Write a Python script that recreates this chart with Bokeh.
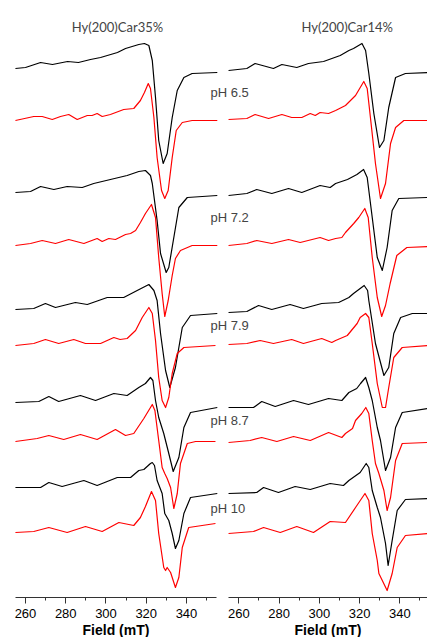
from bokeh.plotting import figure
from bokeh.models import Range1d, LinearAxis, SingleIntervalTicker, Label
from bokeh.embed import file_html
from bokeh.resources import INLINE

# ---------------- data ----------------
panel_titles = ["Hy(200)Car35%", "Hy(200)Car14%"]
ph_labels = ["pH 6.5", "pH 7.2", "pH 7.9", "pH 8.7", "pH 10"]

# Hy(200)Car35% : experimental (black) and simulated (red) spectra, field in mT, intensity a.u.
c35_65_exp_f = [255.0, 260, 267.5, 273.4, 280.9, 286.3, 292.3, 297.3, 305.7, 309.7, 316.3, 319.1, 321.3, 323.0, 324.6, 326.2, 328.4, 330.4, 332.9, 335.4, 338.7, 342.8, 355.3]
c35_65_exp_i = [0, 1, 6, 4, 7, 6, 9, 11, 16, 20, 24, 25, 23, 8, -29, -72, -95, -85, -49, -22, -9, -5, -4]
c35_65_sim_f = [255.0, 264.1, 268.3, 273.3, 277.4, 281.5, 285.7, 290.7, 293.1, 295.6, 298.1, 302.2, 308.8, 313.8, 317.1, 319.1, 321.0, 322.1, 323.8, 325.4, 327.6, 329.2, 330.9, 332.9, 334.9, 337.9, 342.8, 355.3]
c35_65_sim_i = [0, 4, 4, 1, 4, 6, 1, 5, 5, 7, 4, 6, 11, 12, 20, 28, 37, 32, 3, -37, -70, -78, -70, -37, -10, -2, 0, 0]

c35_72_exp_f = [255.0, 262.5, 267.5, 274.1, 280.7, 288.2, 293.9, 302.2, 310.5, 316.3, 319.6, 322.1, 323.0, 325.4, 327.1, 329.9, 331.2, 333.7, 336.2, 340.4, 355.3]
c35_72_exp_i = [0, 1, 6, 3, 6, 5, 9, 13, 17, 21, 22, 17, 9, -28, -61, -80, -75, -45, -15, -5, -3]
c35_72_sim_f = [255.0, 262.5, 268.3, 274.9, 281.5, 289.0, 295.6, 298.1, 301.4, 304.7, 309.7, 312.2, 314.7, 317.1, 319.6, 322.6, 324.6, 326.2, 327.9, 329.2, 330.9, 332.9, 334.5, 337.0, 342.8, 355.3]
c35_72_sim_i = [0, 2, 5, 2, 6, 2, 7, 4, 7, 6, 11, 12, 15, 23, 32, 41, 28, -12, -48, -71, -55, -30, -13, -5, 0, 0]

c35_79_exp_f = [255.0, 264.1, 269.9, 274.9, 284.8, 290.7, 300.6, 308.8, 315.5, 321.3, 323.8, 325.4, 327.1, 329.6, 331.7, 334.5, 337.9, 342.0, 355.3]
c35_79_exp_i = [0, 1, 6, 2, 7, 5, 12, 12, 19, 25, 19, 9, -24, -61, -78, -58, -18, -6, -4]
c35_79_sim_f = [255.0, 264.1, 269.9, 276.5, 284.0, 289.8, 297.3, 303.9, 307.0, 310.5, 314.7, 318.0, 321.3, 323.0, 324.6, 326.2, 327.9, 329.6, 331.2, 332.9, 335.4, 338.7, 354.4]
c35_79_sim_i = [0, 2, 6, 2, 6, 2, 2, 8, 6, 7, 15, 28, 38, 32, 5, -32, -55, -62, -52, -28, -8, -2, 0]

c35_87_exp_f = [255.0, 266.6, 271.6, 276.5, 287.3, 294.8, 303.9, 310.5, 316.3, 319.6, 322.1, 323.3, 324.6, 326.2, 328.7, 331.2, 333.4, 336.2, 338.7, 342.0, 355.3]
c35_87_exp_i = [0, 1, 6, 1, 7, 2, 9, 7, 15, 19, 25, 22, 2, -15, -31, -51, -69, -55, -25, -10, -5]
c35_87_sim_f = [255.0, 265.8, 271.6, 279.0, 287.3, 295.6, 304.7, 309.7, 313.8, 318.8, 323.0, 324.3, 326.2, 327.9, 329.2, 330.4, 332.1, 333.7, 335.4, 337.0, 340.4, 344.5, 354.4]
c35_87_sim_i = [0, 3, 6, 2, 7, 2, 12, 6, 8, 23, 37, 31, 1, -26, -32, -37, -46, -67, -52, -22, -2, 0, 0]

c35_10_exp_f = [255.0, 267.5, 271.6, 278.2, 289.0, 295.6, 305.6, 312.2, 316.3, 318.8, 322.1, 323.0, 324.1, 325.4, 327.9, 329.2, 331.2, 332.9, 334.5, 336.2, 338.7, 342.0, 355.3]
c35_10_exp_i = [0, 0, 5, 1, 7, 2, 10, 10, 17, 18, 24, 25, 22, 7, -6, -26, -33, -46, -61, -53, -26, -10, -6]
c35_10_sim_f = [255.0, 264.1, 271.6, 280.7, 289.8, 298.1, 306.4, 313.8, 317.1, 319.6, 322.6, 324.6, 326.2, 328.7, 329.6, 330.4, 332.1, 334.5, 336.2, 337.9, 341.1, 354.4]
c35_10_sim_i = [0, 1, 5, 0, 6, 1, 10, 7, 15, 26, 41, 32, -1, -35, -38, -35, -40, -55, -45, -15, 5, 9]

# Hy(200)Car14%
c14_65_exp_f = [254.9, 264.0, 268.1, 277.2, 281.4, 288.8, 294.6, 302.1, 310.4, 314.7, 317.0, 321.2, 323.0, 324.6, 327.1, 329.9, 332.1, 334.5, 337.9, 342.8, 353.8]
c14_65_exp_i = [0, 2, 7, 2, 6, 3, 7, 9, 15, 20, 22, 27, 20, -3, -43, -77, -70, -37, -7, -3, -2]
c14_65_sim_f = [254.9, 264.0, 268.1, 274.8, 281.4, 286.3, 291.3, 295.5, 298.0, 300.4, 304.6, 308.1, 313.0, 318.0, 322.1, 323.8, 325.4, 327.9, 330.4, 332.9, 335.4, 337.9, 342.0, 353.8]
c14_65_sim_i = [1, 2, 6, 2, 6, 3, 3, 7, 5, 8, 7, 10, 15, 25, 39, 32, 3, -43, -78, -63, -23, -7, 0, 0]

c14_72_exp_f = [254.9, 264.0, 268.9, 276.4, 284.7, 291.3, 300.4, 305.4, 308.1, 314.0, 318.7, 322.0, 323.8, 326.3, 328.8, 331.3, 333.7, 336.2, 339.5, 353.8]
c14_72_exp_i = [0, 2, 6, 2, 7, 3, 10, 8, 12, 16, 21, 26, 18, -22, -62, -75, -52, -15, -3, -2]
c14_72_sim_f = [254.9, 264.0, 268.9, 276.4, 284.7, 290.5, 300.4, 304.6, 308.1, 311.2, 313.0, 317.1, 319.6, 322.6, 324.3, 326.3, 328.8, 331.0, 332.9, 335.2, 338.5, 343.5, 353.8]
c14_72_sim_i = [0, 2, 5, 2, 6, 3, 8, 5, 7, 8, 13, 22, 28, 37, 28, -12, -52, -71, -60, -38, -10, -2, -1]

c14_79_exp_f = [254.9, 264.0, 269.8, 276.4, 285.5, 292.1, 301.2, 309.6, 314.7, 317.0, 322.3, 324.0, 324.6, 327.9, 332.1, 334.5, 337.0, 340.4, 346.2, 353.8]
c14_79_exp_i = [0, 1, 7, 3, 8, 4, 9, 10, 15, 19, 27, 22, 12, -31, -63, -55, -21, -5, -1, -1]
c14_79_sim_f = [254.9, 264.0, 270.6, 277.2, 286.3, 292.1, 301.2, 306.2, 308.1, 313.9, 318.8, 320.3, 323.0, 324.6, 326.3, 328.8, 331.3, 332.9, 334.5, 337.0, 341.2, 353.8]
c14_79_sim_i = [0, 1, 4, 1, 5, 1, 6, 2, 4, 9, 21, 27, 31, 27, 1, -39, -63, -63, -43, -13, -3, -1]

c14_87_exp_f = [254.9, 267.3, 271.4, 278.1, 287.2, 294.6, 304.6, 311.2, 314.7, 318.6, 320.5, 323.0, 324.6, 326.3, 328.8, 330.4, 332.9, 335.4, 337.9, 341.2, 353.8]
c14_87_exp_i = [0, 0, 6, 1, 7, 3, 9, 7, 15, 19, 24, 30, 20, 7, -20, -33, -63, -50, -20, -5, -1]
c14_87_sim_f = [254.9, 265.6, 271.4, 278.9, 287.2, 295.5, 304.6, 311.2, 313.0, 316.5, 318.0, 321.1, 323.1, 324.6, 326.3, 327.9, 329.6, 332.1, 333.7, 335.4, 337.9, 341.2, 353.8]
c14_87_sim_i = [-1, 1, 4, 0, 5, 1, 9, 4, 8, 13, 21, 28, 34, 28, 1, -22, -32, -49, -69, -56, -19, -2, -1]

c14_10_exp_f = [254.9, 268.9, 272.3, 279.7, 288.0, 295.5, 305.4, 312.0, 314.7, 320.3, 323.3, 324.6, 326.3, 328.8, 330.4, 332.9, 334.2, 336.2, 338.7, 342.8, 353.8]
c14_10_exp_i = [0, 1, 6, 1, 7, 4, 10, 8, 13, 21, 30, 26, 3, -14, -24, -50, -72, -47, -17, -6, -5]
c14_10_sim_f = [254.9, 267.3, 272.3, 280.6, 288.8, 297.1, 305.4, 313.0, 318.0, 322.7, 324.6, 326.3, 328.8, 329.6, 331.3, 333.7, 336.2, 338.7, 342.8, 353.8]
c14_10_sim_i = [-1, 1, 5, 0, 6, 0, 11, 10, 25, 39, 32, -1, -28, -41, -48, -58, -41, -15, -3, -1]

# vertical stacking offsets (a.u.), order: pH 6.5 exp, sim, 7.2 exp, sim, ... 10 exp, sim
offsets_c35 = [529, 477, 405, 352, 288, 252, 195, 156, 110, 65]
offsets_c14 = [527, 477, 402, 352, 285, 253, 190, 156, 104, 65]

ticks_major = 20
# --------------------------------------

left_curves = [
    (c35_65_exp_f, c35_65_exp_i), (c35_65_sim_f, c35_65_sim_i),
    (c35_72_exp_f, c35_72_exp_i), (c35_72_sim_f, c35_72_sim_i),
    (c35_79_exp_f, c35_79_exp_i), (c35_79_sim_f, c35_79_sim_i),
    (c35_87_exp_f, c35_87_exp_i), (c35_87_sim_f, c35_87_sim_i),
    (c35_10_exp_f, c35_10_exp_i), (c35_10_sim_f, c35_10_sim_i),
]
right_curves = [
    (c14_65_exp_f, c14_65_exp_i), (c14_65_sim_f, c14_65_sim_i),
    (c14_72_exp_f, c14_72_exp_i), (c14_72_sim_f, c14_72_sim_i),
    (c14_79_exp_f, c14_79_exp_i), (c14_79_sim_f, c14_79_sim_i),
    (c14_87_exp_f, c14_87_exp_i), (c14_87_sim_f, c14_87_sim_i),
    (c14_10_exp_f, c14_10_exp_i), (c14_10_sim_f, c14_10_sim_i),
]

X0, X1 = 247.58, 459.75
SHIFT = 105.99

p = figure(width=427, height=637, x_range=Range1d(X0, X1), y_range=Range1d(-40, 597),
           output_backend="svg", toolbar_location=None,
           x_axis_type=None, y_axis_type=None,
           min_border_left=0, min_border_right=0, min_border_top=0, min_border_bottom=0,
           outline_line_color=None, background_fill_color="white", border_fill_color="white")
p.extra_x_ranges = {"right": Range1d(X0 - SHIFT, X1 - SHIFT)}

colors = ["black", "#ff0000"]
for k, (f, i) in enumerate(left_curves):
    off = offsets_c35[k]
    p.line(f, [off + v for v in i], line_color=colors[k % 2], line_width=1.2,
           line_join="round")
for k, (f, i) in enumerate(right_curves):
    off = offsets_c14[k]
    p.line(f, [off + v for v in i], line_color=colors[k % 2], line_width=1.2,
           line_join="round", x_range_name="right")

for rname in ["default", "right"]:
    ax = LinearAxis(x_range_name=rname, fixed_location=0, bounds=(255, 355),
                    ticker=SingleIntervalTicker(interval=ticks_major, num_minor_ticks=2),
                    axis_label="Field (mT)")
    ax.axis_line_color = "#333333"
    ax.major_tick_line_color = "#333333"
    ax.minor_tick_line_color = "#333333"
    ax.major_tick_in = 0
    ax.major_tick_out = 6
    ax.minor_tick_in = 0
    ax.minor_tick_out = 3
    ax.major_label_text_font = "Liberation Sans"
    ax.major_label_text_font_size = "13px"
    ax.major_label_text_color = "black"
    ax.major_label_standoff = 5
    ax.axis_label_text_font = "Liberation Sans"
    ax.axis_label_text_font_size = "14px"
    ax.axis_label_text_font_style = "bold"
    ax.axis_label_text_color = "black"
    ax.axis_label_standoff = 1
    p.add_layout(ax, "below")

# panel titles
p.add_layout(Label(x=305.7, y=571, text=panel_titles[0], text_align="center",
                   text_baseline="middle", text_font="Lato", text_font_size="13px"))
p.add_layout(Label(x=313.9, y=571, x_range_name="right", text=panel_titles[1], text_align="center",
                   text_baseline="middle", text_font="Lato", text_font_size="13px"))

# pH labels, placed between the exp and sim traces of the left panel
label_y = [(offsets_c35[2 * j] + offsets_c35[2 * j + 1]) / 2 + 2 for j in range(5)]
for j, t in enumerate(ph_labels):
    p.add_layout(Label(x=351.9, y=label_y[j], text=t, text_align="left", text_baseline="middle",
                       text_font="Liberation Sans", text_font_size="13px"))

open("out.html", "w").write(file_html(p, INLINE))
